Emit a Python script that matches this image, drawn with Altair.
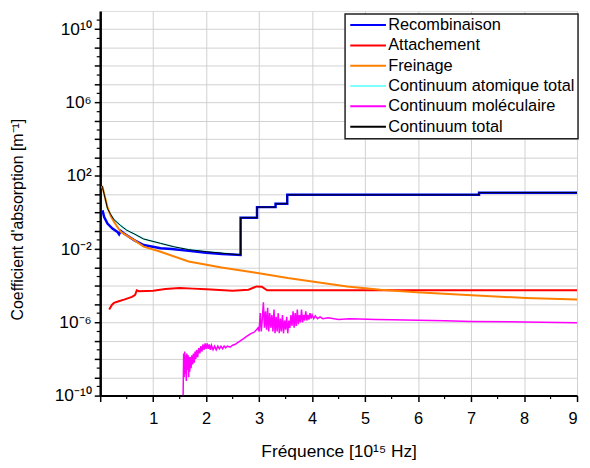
import altair as alt
import pandas as pd

FONT = "Liberation Sans"

series_names = ["Recombinaison", "Attachement", "Freinage",
                "Continuum atomique total", "Continuum moléculaire", "Continuum total"]
series_colors = ["#0000ff", "#ff0000", "#ff8000", "#80ffff", "#ff00ff", "#000000"]
series_widths = [2.5, 2.0, 2.0, 2.0, 1.5, 1.0]

# exponents (log10 of the absorption coefficient, m^-1) vs frequency (1e15 Hz)
step_x = [2.65, 2.65, 2.96, 2.96, 3.31, 3.31, 3.53, 3.53, 7.15, 7.15, 9.0]
step_e = [-2.32, -0.29, -0.29, 0.29, 0.29, 0.47, 0.47, 0.96, 0.96, 1.08, 1.08]

recomb_x = [0.044, 0.075, 0.137, 0.231, 0.325, 0.356, 0.387, 0.45, 0.64, 0.82,
            1.14, 1.35, 1.67, 2.0, 2.3] + step_x
recomb_e = [0.11, -0.25, -0.61, -0.88, -1.06, -1.19, -1.01, -1.15, -1.51, -1.78,
            -1.96, -2.0, -2.1, -2.2, -2.27] + step_e

total_x = [0.035, 0.044, 0.075, 0.137, 0.2, 0.262, 0.387, 0.5, 0.64, 0.82,
           1.14, 1.4, 1.67, 2.0, 2.29, 2.5] + step_x
total_e = [1.45, 1.37, 1.0, 0.22, -0.12, -0.4, -0.72, -0.97, -1.17, -1.45,
           -1.69, -1.88, -2.03, -2.14, -2.22, -2.28] + step_e

atom_x = total_x
atom_e = total_e

frein_x = [0.035, 0.044, 0.075, 0.137, 0.2, 0.262, 0.387, 0.64, 0.82, 1.14,
           1.67, 2.29, 2.91, 3.54, 4.66, 5.29, 5.97, 7.1, 8.03, 9.0]
frein_e = [1.45, 1.37, 1.01, 0.29, -0.2, -0.52, -1.06, -1.51, -1.87, -2.15,
           -2.68, -3.01, -3.28, -3.58, -4.04, -4.22, -4.36, -4.54, -4.67, -4.76]

attach_x = [0.17, 0.22, 0.26, 0.35, 0.45, 0.6, 0.66, 0.69, 0.73, 1.0, 1.23, 1.5,
            1.75, 2.0, 2.5, 2.8, 2.95, 3.05, 3.15, 3.4, 9.0]
attach_e = [-5.3, -5.05, -4.94, -4.85, -4.76, -4.61, -4.5, -4.25, -4.3, -4.28, -4.18,
            -4.13, -4.16, -4.2, -4.27, -4.22, -4.04, -4.06, -4.25, -4.25, -4.25]

mol_x = [1.565, 1.575, 1.585, 1.595, 1.605, 1.615, 1.625, 1.635, 1.645, 1.66,
         1.67, 1.68, 1.69, 1.70, 1.715, 1.73, 1.745, 1.76, 1.775, 1.79,
         1.805, 1.82, 1.84, 1.86, 1.88, 1.90, 1.92, 1.94, 1.96, 1.98,
         2.00, 2.02, 2.04, 2.06, 2.08, 2.10, 2.13, 2.16, 2.19, 2.22,
         2.25, 2.28, 2.31, 2.34, 2.37, 2.40, 2.45, 2.50, 2.55, 2.60,
         2.65, 2.70, 2.75, 2.80, 2.85, 2.90, 2.95, 2.98, 3.00, 3.02,
         3.04, 3.06, 3.08, 3.10, 3.12, 3.14, 3.16, 3.18, 3.20, 3.22,
         3.24, 3.26, 3.28, 3.30, 3.32, 3.34, 3.36, 3.38, 3.40, 3.42,
         3.44, 3.46, 3.48, 3.50, 3.52, 3.54, 3.56, 3.58, 3.60, 3.62,
         3.64, 3.66, 3.68, 3.70, 3.72, 3.74, 3.76, 3.78, 3.80, 3.82,
         3.84, 3.86, 3.88, 3.90, 3.92, 3.94, 3.96, 3.98, 4.00, 4.03,
         4.06, 4.10, 4.15, 4.20, 4.3, 4.5, 4.7, 4.9, 5.2, 5.5,
         6.0, 6.5, 7.0, 8.0, 9.0]
mol_e = [-10.0, -7.7, -9.0, -7.6, -8.8, -7.8, -9.2, -7.7, -8.6, -7.8,
         -9.0, -7.9, -8.7, -7.9, -8.5, -7.8, -8.3, -7.7, -8.2, -7.6,
         -8.0, -7.5, -7.9, -7.4, -7.7, -7.3, -7.6, -7.2, -7.5, -7.15,
         -7.45, -7.15, -7.45, -7.2, -7.5, -7.25, -7.5, -7.3, -7.5, -7.3,
         -7.45, -7.3, -7.45, -7.3, -7.4, -7.3, -7.35, -7.25, -7.2, -7.1,
         -7.0, -6.9, -6.8, -6.7, -6.6, -6.55, -6.4, -6.3, -6.5, -5.5,
         -6.5, -5.8, -4.9, -6.3, -5.4, -6.4, -5.2, -6.5, -5.5, -6.3,
         -5.6, -6.5, -5.3, -6.6, -5.7, -6.5, -5.5, -6.6, -5.8, -6.5,
         -5.6, -6.6, -5.9, -6.4, -5.7, -6.6, -5.9, -6.3, -5.6, -6.2,
         -5.4, -6.3, -5.5, -6.2, -5.3, -6.1, -5.6, -6.0, -5.3, -6.0,
         -5.6, -5.9, -5.4, -5.9, -5.6, -5.85, -5.5, -5.8, -5.6, -5.8,
         -5.65, -5.8, -5.7, -5.8, -5.75, -5.85, -5.8, -5.82, -5.84, -5.86,
         -5.89, -5.92, -5.96, -5.98, -6.02]

x_ticks = [0, 1, 2, 3, 4, 5, 6, 7, 8, 9]
x_minor = [0.5, 1.5, 2.5, 3.5, 4.5, 5.5, 6.5, 7.5, 8.5]
y_decades = list(range(-10, 11))
y_labels = {10: "10¹⁰", 6: "10⁶", 2: "10²", -2: "10⁻²", -6: "10⁻⁶", -10: "10⁻¹⁰"}

series_data = [
    ("Continuum atomique total", atom_x, atom_e),
    ("Recombinaison", recomb_x, recomb_e),
    ("Attachement", attach_x, attach_e),
    ("Freinage", frein_x, frein_e),
    ("Continuum moléculaire", mol_x, mol_e),
    ("Continuum total", total_x, total_e),
]

y_scale = alt.Scale(type="log", domain=[1e-10, 1e11])
x_scale = alt.Scale(domain=[0, 9], nice=False, zero=False)

label_expr = "''"
for k, v in y_labels.items():
    label_expr = f"round(log(datum.value)/LN10)=={k} ? '{v}' : ({label_expr})"

x_axis = alt.Axis(values=x_ticks, format="d", labelExpr="datum.value == 0 ? '' : datum.label",
                  title="Fréquence [10¹⁵ Hz]", grid=True, gridColor="#d0d0d0", gridWidth=1,
                  domainColor="black", domainWidth=2, tickColor="black", tickWidth=1.5,
                  tickSize=6, labelPadding=9, labelFontSize=16.5, labelFont=FONT,
                  labelColor="black", titleFont=FONT, titleFontSize=17.5, titleFontWeight="normal",
                  titleColor="black", titleX=240.5, titleY=61, titleBaseline="alphabetic",
                  titleAlign="center")
y_axis = alt.Axis(values=[10.0 ** k for k in y_decades], labelExpr=label_expr,
                  title="Coefficient d'absorption [m⁻¹]", grid=True, gridColor="#d0d0d0",
                  gridWidth=1, domainColor="black", domainWidth=2.5, tickColor="black",
                  tickWidth=1.5, tickSize=6, labelPadding=3, labelFontSize=17.5, labelFont=FONT,
                  labelColor="black", titleFont=FONT, titleFontSize=16, titleFontWeight="normal",
                  titleColor="black", titleAngle=270, titleX=-83, titleY=210,
                  titleBaseline="middle", titleAlign="center")

color_enc = alt.Color("series:N",
                      scale=alt.Scale(domain=series_names, range=series_colors),
                      legend=alt.Legend(orient="none", legendX=247, legendY=3, title=None,
                                        symbolType="M-1,0H5", symbolSize=144,
                                        symbolStrokeWidth=2, labelFontSize=16.5, labelFont=FONT,
                                        labelColor="black", labelOffset=24, fillColor="white",
                                        strokeColor="#222222", padding=3,
                                        rowPadding=3.5, labelLimit=400))

layers = []
for i, (name, xs, es) in enumerate(series_data):
    df = pd.DataFrame({"x": xs, "y": [10.0 ** e for e in es], "series": name})
    w = series_widths[series_names.index(name)]
    if i == 0:
        xenc = alt.X("x:Q", scale=x_scale, axis=x_axis)
        yenc = alt.Y("y:Q", scale=y_scale, axis=y_axis)
    else:
        xenc = alt.X("x:Q", scale=x_scale)
        yenc = alt.Y("y:Q", scale=y_scale)
    layers.append(
        alt.Chart(df).mark_line(strokeWidth=w, clip=True).encode(
            x=xenc, y=yenc, color=color_enc)
    )

ymin_df = pd.DataFrame({"y": [10.0 ** (k + 0.5) for k in y_decades]})
ymin = alt.Chart(ymin_df).mark_rule(color="black", strokeWidth=1.2).encode(
    y=alt.Y("y:Q", scale=y_scale), x=alt.value(-3.5), x2=alt.value(0))

xmin_df = pd.DataFrame({"x": x_minor})
xmin = alt.Chart(xmin_df).mark_rule(color="black", strokeWidth=1.2).encode(
    x=alt.X("x:Q", scale=x_scale), y=alt.value(388), y2=alt.value(391.5))

chart = alt.layer(*layers, ymin, xmin).properties(
    width=481, height=388,
    autosize=alt.AutoSizeParams(type="none"),
    padding={"left": 93, "top": 1, "right": 5, "bottom": 63},
).configure_view(stroke=None).configure(background="white").configure_legend(strokeWidth=1.5)

chart.save("out.html", embed_options={"renderer": "svg", "actions": False})
